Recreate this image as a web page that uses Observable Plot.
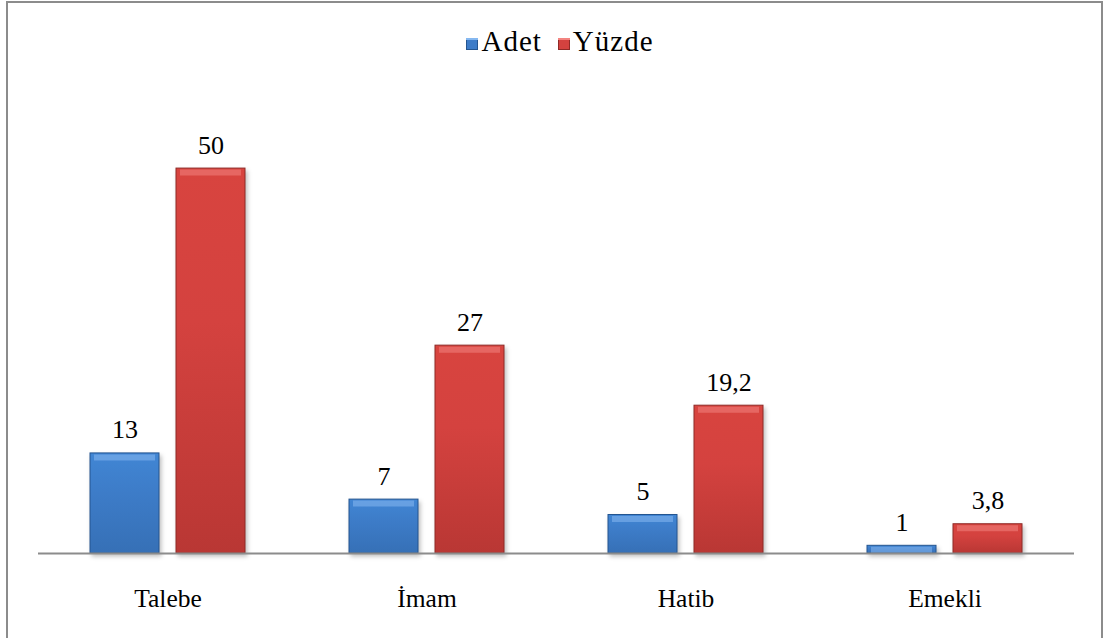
<!DOCTYPE html>
<html>
<head>
<meta charset="utf-8">
<script src="https://cdn.jsdelivr.net/npm/d3@7"></script>
<script src="https://cdn.jsdelivr.net/npm/@observablehq/plot@0.6"></script>
<style>
  html, body { margin: 0; padding: 0; background: #fff; }
  #wrap { position: relative; width: 1104px; height: 638px; overflow: hidden; font-family: "Liberation Serif", "Times New Roman", serif; }
  #frame { position: absolute; left: 6px; top: 1px; width: 1097px; height: 660px; border: 2px solid #8c8c8c; box-sizing: border-box; }
  #legend { position: absolute; top: 25px; left: 8px; width: 1104px; text-align: center; font-size: 29px; line-height: 32px; color: #000; letter-spacing: 1px; }
  #legend span.item { display: inline-block; margin: 0 8px; }
  #legend span.sw { display: inline-block; width: 12px; height: 12px; margin-right: 3px; vertical-align: 1px; }
  #chart { position: absolute; left: 0; top: 0; }
</style>
</head>
<body>
<div id="wrap">
  <div id="frame"></div>
  <div id="chart"></div>
  <div id="legend"></div>
</div>
<script>
const categories = ["Talebe", "İmam", "Hatib", "Emekli"];
const series = ["Adet", "Yüzde"];
const adet = [13, 7, 5, 1];
const yuzde = [50, 27, 19.2, 3.8];
const yuzdeLabels = ["50", "27", "19,2", "3,8"];
const adetLabels = ["13", "7", "5", "1"];

const colors = { Adet: "#3d7cc8", Yüzde: "#d4423f" };
const gradIds = { Adet: "gAdet", Yüzde: "gYuzde" };
const topColors = { Adet: "#86b8f0", Yüzde: "#f38480" };
const edgeColors = { Adet: "#24558f", Yüzde: "#8f2a27" };

const data = [];
categories.forEach((c, i) => {
  data.push({ cat: c, series: "Adet", value: adet[i], label: adetLabels[i] });
  data.push({ cat: c, series: "Yüzde", value: yuzde[i], label: yuzdeLabels[i] });
});

const chart = Plot.plot({
  width: 1104,
  height: 638,
  marginLeft: 37,
  marginRight: 29,
  marginTop: 68,
  marginBottom: 85,
  style: { fontFamily: "Liberation Serif, Times New Roman, serif", background: "transparent" },
  fx: { domain: categories, padding: 0, label: null, tickSize: 0, tickPadding: 35 },
  x: { domain: series, paddingInner: 0.195, paddingOuter: 0.589, axis: null },
  y: { domain: [0, 63], axis: null },
  marks: [
    Plot.barY(data, {
      fx: "cat", x: "series", y: "value",
      fill: d => "url(#" + gradIds[d.series] + ")",
      stroke: d => edgeColors[d.series], strokeWidth: 1
    }),
    Plot.tickY(data, {
      fx: "cat", x: "series", y: "value",
      stroke: d => topColors[d.series], strokeWidth: 6, dy: 4, strokeOpacity: 0.55,
      insetLeft: 4, insetRight: 4
    }),
    Plot.ruleY([0], { stroke: "#8c8c8c", strokeWidth: 2 }),
    Plot.text(data, {
      fx: "cat", x: "series", y: "value", text: "label",
      lineAnchor: "bottom", dy: -15, fontSize: 26, fill: "#000"
    })
  ]
});

// gradients and shadow
const svg = d3.select(chart);
const defs = svg.insert("defs", ":first-child");
function grad(id, top, mid, bot) {
  const g = defs.append("linearGradient").attr("id", id).attr("x1", 0).attr("y1", 0).attr("x2", 0).attr("y2", 1);
  g.append("stop").attr("offset", "0%").attr("stop-color", top);
  g.append("stop").attr("offset", "40%").attr("stop-color", mid);
  g.append("stop").attr("offset", "100%").attr("stop-color", bot);
}
grad("gAdet", "#4186d4", "#3d7cc8", "#3670b6");
grad("gYuzde", "#d8443f", "#d4423f", "#b93734");
svg.selectAll("g[aria-label='bar'] rect").style("filter", "drop-shadow(2px 3px 2px rgba(0,0,0,0.25))");
svg.selectAll("g[aria-label='fx-axis tick label'] text, g[aria-label='fx-axis tick label']").attr("font-size", 25.5);
svg.selectAll("[aria-label='fx-axis tick label']").style("font-size", "25.5px");

document.getElementById("chart").appendChild(chart);

// legend
const legend = document.getElementById("legend");
series.forEach(s => {
  const item = document.createElement("span");
  item.className = "item";
  const sw = document.createElement("span");
  sw.className = "sw";
  sw.style.background = colors[s];
  sw.style.boxShadow = "inset 0 2px 0 " + topColors[s] + ", inset 0 0 0 1px " + edgeColors[s];
  item.appendChild(sw);
  item.appendChild(document.createTextNode(s));
  legend.appendChild(item);
});
</script>
</body>
</html>
